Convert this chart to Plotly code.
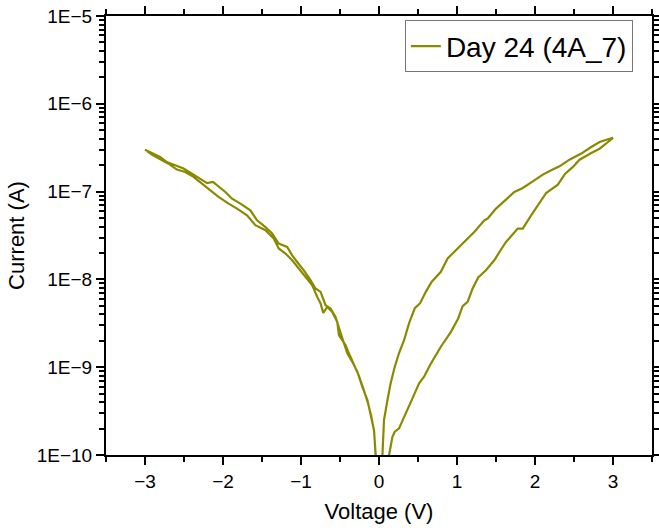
import plotly.graph_objects as go

# Positive side, lower branch (0 -> 3 V)
v_pos_low = [0.125, 0.129, 0.172, 0.202, 0.257, 0.321, 0.365, 0.429, 0.514, 0.578, 0.665,
             0.793, 0.922, 1.015, 1.072, 1.136, 1.200, 1.272, 1.371, 1.478, 1.564, 1.629,
             1.779, 1.843, 1.950, 2.057, 2.143, 2.293, 2.387, 2.486, 2.571, 2.721, 2.828,
             2.936, 3.0]
i_pos_low = [1e-12, 1.0e-10, 1.61e-10, 1.84e-10, 2.01e-10, 2.73e-10, 3.40e-10, 4.42e-10,
             6.55e-10, 7.78e-10, 1.10e-9, 1.71e-9, 2.53e-9, 3.59e-9, 4.95e-9, 5.55e-9,
             7.87e-9, 1.05e-8, 1.27e-8, 1.65e-8, 2.19e-8, 2.67e-8, 3.79e-8, 3.79e-8,
             5.37e-8, 7.30e-8, 9.64e-8, 1.20e-7, 1.60e-7, 1.91e-7, 2.31e-7, 2.75e-7,
             3.08e-7, 3.67e-7, 4.10e-7]

# Positive side, upper branch (3 -> 0 V)
v_pos_up = [3.0, 2.936, 2.828, 2.721, 2.593, 2.442, 2.314, 2.207, 2.100, 1.972, 1.843,
            1.735, 1.629, 1.500, 1.393, 1.350, 1.221, 1.114, 0.986, 0.879, 0.793, 0.674,
            0.600, 0.527, 0.459, 0.386, 0.321, 0.257, 0.202, 0.150, 0.108, 0.064, 0.044,
            0.035]
i_pos_up = [4.10e-7, 3.94e-7, 3.67e-7, 3.22e-7, 2.71e-7, 2.31e-7, 1.94e-7, 1.75e-7,
            1.56e-7, 1.31e-7, 1.10e-7, 9.89e-8, 8.11e-8, 6.41e-8, 4.93e-8, 4.71e-8,
            3.47e-8, 2.79e-8, 2.19e-8, 1.73e-8, 1.22e-8, 9.37e-9, 7.21e-9, 5.36e-9,
            4.70e-9, 3.18e-9, 2.03e-9, 1.45e-9, 1.01e-9, 6.6e-10, 4.2e-10, 2.5e-10,
            1.0e-10, 1e-12]

# Negative side, branch A (0 -> -3 V)
v_neg_a = [-0.032, -0.042, -0.064, -0.107, -0.149, -0.213, -0.278, -0.342, -0.406, -0.470,
           -0.514, -0.557, -0.621, -0.685, -0.749, -0.814, -0.878, -0.964, -1.049, -1.113,
           -1.177, -1.285, -1.370, -1.456, -1.563, -1.649, -1.777, -1.884, -1.970, -2.057,
           -2.129, -2.205, -2.291, -2.398, -2.506, -2.613, -2.720, -2.806, -2.892, -3.0]
i_neg_a = [1e-12, 1.0e-10, 1.92e-10, 2.98e-10, 4.23e-10, 5.98e-10, 8.87e-10, 1.15e-9,
           1.44e-9, 2.13e-9, 2.76e-9, 3.74e-9, 4.67e-9, 5.08e-9, 7.21e-9, 7.87e-9,
           9.80e-9, 1.27e-8, 1.58e-8, 1.88e-8, 2.34e-8, 2.56e-8, 3.33e-8, 3.95e-8,
           4.71e-8, 6.12e-8, 7.30e-8, 8.31e-8, 9.89e-8, 1.13e-7, 1.29e-7, 1.25e-7,
           1.41e-7, 1.60e-7, 1.83e-7, 1.99e-7, 2.17e-7, 2.48e-7, 2.71e-7, 3.0e-7]

# Negative side, branch B (-3 -> 0 V)
v_neg_b = [-3.0, -2.913, -2.806, -2.699, -2.591, -2.485, -2.378, -2.270, -2.163, -2.057,
           -1.928, -1.820, -1.692, -1.585, -1.456, -1.350, -1.285, -1.199, -1.113, -1.028,
           -0.942, -0.856, -0.792, -0.749, -0.715, -0.663, -0.599, -0.535, -0.514, -0.428,
           -0.386, -0.325, -0.261, -0.203, -0.145, -0.100, -0.062, -0.044, -0.036]
i_neg_b = [3.0e-7, 2.65e-7, 2.37e-7, 2.08e-7, 1.78e-7, 1.67e-7, 1.47e-7, 1.23e-7, 1.04e-7,
           8.69e-8, 7.30e-8, 6.41e-8, 5.37e-8, 4.14e-8, 3.63e-8, 2.92e-8, 2.25e-8, 1.97e-8,
           1.65e-8, 1.33e-8, 1.07e-8, 8.59e-9, 6.32e-9, 5.32e-9, 4.16e-9, 4.86e-9, 4.26e-9,
           3.28e-9, 2.32e-9, 1.78e-9, 1.44e-9, 1.11e-9, 8.13e-10, 5.78e-10, 4.01e-10,
           2.78e-10, 1.85e-10, 1.0e-10, 1e-12]

voltage = v_pos_low + v_pos_up + v_neg_a + v_neg_b
current = i_pos_low + i_pos_up + i_neg_a + i_neg_b

series_name = "Day 24 (4A_7)"
y_tick_vals = [1e-10, 1e-9, 1e-8, 1e-7, 1e-6, 1e-5]
y_tick_text = ["1E\u221210", "1E\u22129", "1E\u22128", "1E\u22127", "1E\u22126", "1E\u22125"]
x_tick_vals = [-3, -2, -1, 0, 1, 2, 3]

color = "#8a8a00"
font_family = "Liberation Sans, Arial, sans-serif"

y_minor = [m * 10.0 ** e for e in range(-10, -5) for m in range(2, 10)]

fig = go.Figure()
fig.add_trace(go.Scatter(x=voltage, y=current, mode="lines", name=series_name,
                         line=dict(color=color, width=2.2), showlegend=True))

tick_style = dict(ticks="outside", tickcolor="black", tickwidth=2, ticklen=8,
                  showgrid=False, zeroline=False, automargin=False, mirror="ticks",
                  showline=True, linecolor="black", linewidth=2)
tickfont = dict(family=font_family, size=19, color="black")
titlefont = dict(family=font_family, size=22, color="black")
x_minor = dict(ticks="outside", ticklen=5, tickwidth=2, tickcolor="black",
               dtick=0.5, tick0=0, showgrid=False)
y_minor_d = dict(ticks="outside", ticklen=5, tickwidth=2, tickcolor="black",
                 tickmode="array", tickvals=y_minor, showgrid=False)

fig.update_layout(
    width=659, height=531,
    margin=dict(l=106, r=7, t=16, b=76),
    paper_bgcolor="white", plot_bgcolor="white",
    font=dict(family=font_family, color="black"),
    xaxis=dict(range=[-3.5, 3.5], tickmode="array", tickvals=x_tick_vals,
               title=dict(text="Voltage (V)", font=titlefont, standoff=13),
               tickfont=tickfont, minor=x_minor, **tick_style),
    yaxis=dict(type="log", range=[-10, -5], tickmode="array", tickvals=y_tick_vals,
               ticktext=y_tick_text, ticklabeloverflow="allow",
               title=dict(text="Current (A)", font=titlefont, standoff=6),
               tickfont=tickfont, minor=y_minor_d, **tick_style),
    legend=dict(x=0.965, y=0.99, xanchor="right", yanchor="top",
                bgcolor="white", bordercolor="#777777", borderwidth=1,
                font=dict(family=font_family, size=28, color="black")),
)

fig.write_html("out.html", config={"displayModeBar": False},
               post_script="document.body.style.margin='0';document.body.style.overflow='hidden';")
